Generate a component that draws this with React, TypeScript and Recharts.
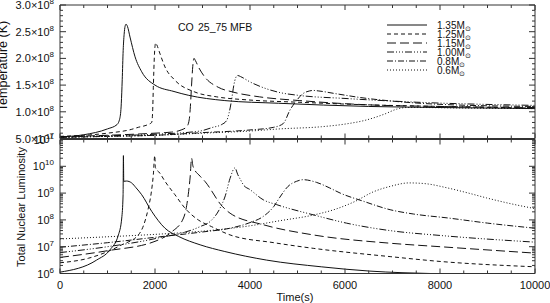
import { Line, LineChart, XAxis, YAxis } from "recharts";

const FONT = '"Liberation Sans", Arial, Helvetica, sans-serif';
const INK = "#111";
const AXIS = "#333";

// Series: white dwarf masses (solar masses)
const MASSES = ["1.35", "1.25", "1.15", "1.00", "0.8", "0.6"];

// --- Temperature (upper panel), in units of 1e8 K ---
const T135_TIME = [0, 500, 1000, 1200, 1260, 1290, 1310, 1330, 1350, 1370, 1390, 1420, 1474, 1580, 1720, 2000, 2400, 2700, 3470, 4600, 6500, 8000, 10000];
const T135_TEMP = [0.53, 0.57, 0.68, 0.76, 0.88, 1.15, 1.6, 2.15, 2.45, 2.6, 2.64, 2.6, 2.4, 2.03, 1.75, 1.5, 1.38, 1.31, 1.21, 1.16, 1.1, 1.08, 1.06];

const T125_TIME = [0, 1000, 1500, 1650, 1850, 1930, 1950, 1965, 1990, 2014, 2040, 2100, 2210, 2420, 2840, 3300, 4000, 5000, 6500, 8000, 10000];
const T125_TEMP = [0.54, 0.6, 0.67, 0.71, 0.76, 0.8, 1.0, 1.46, 2.1, 2.29, 2.25, 2.1, 1.84, 1.59, 1.37, 1.28, 1.22, 1.18, 1.13, 1.1, 1.07];

const T115_TIME = [0, 1000, 2000, 2350, 2550, 2670, 2720, 2745, 2770, 2795, 2821, 2850, 2920, 3050, 3330, 3640, 4200, 5050, 6500, 8000, 10000];
const T115_TEMP = [0.53, 0.56, 0.6, 0.62, 0.66, 0.72, 0.85, 1.1, 1.5, 1.85, 2.0, 1.96, 1.83, 1.65, 1.46, 1.37, 1.28, 1.21, 1.13, 1.1, 1.08];

const T100_TIME = [0, 1000, 2000, 2950, 3220, 3400, 3510, 3560, 3610, 3660, 3700, 3740, 3800, 4000, 4350, 4630, 5000, 6000, 7500, 10000];
const T100_TEMP = [0.53, 0.55, 0.58, 0.64, 0.71, 0.76, 0.84, 0.98, 1.21, 1.5, 1.64, 1.68, 1.66, 1.56, 1.43, 1.36, 1.31, 1.25, 1.18, 1.12];

const T080_TIME = [0, 1000, 2000, 3000, 4000, 4500, 4700, 4840, 4980, 5100, 5250, 5330, 5450, 5800, 6300, 7000, 8000, 10000];
const T080_TEMP = [0.52, 0.54, 0.56, 0.61, 0.66, 0.71, 0.78, 1.03, 1.21, 1.33, 1.39, 1.4, 1.39, 1.34, 1.27, 1.2, 1.14, 1.1];

const T060_TIME = [0, 1000, 2000, 3000, 4000, 4630, 5500, 6000, 6420, 6840, 7090, 7300, 7600, 8500, 10000];
const T060_TEMP = [0.52, 0.54, 0.56, 0.6, 0.64, 0.68, 0.72, 0.77, 0.84, 0.96, 1.05, 1.08, 1.08, 1.07, 1.06];

// --- Total nuclear luminosity (lower panel), log10 values ---
const L135_TIME = [0, 770, 1050, 1230, 1300, 1328, 1335, 1342, 1400, 1508, 1600, 1720, 1930, 2210, 2500, 2950, 3470, 4350, 5500, 6520, 7200, 7800];
const L135_LOG = [6.05, 6.5, 6.88, 7.44, 8.07, 8.94, 10.4, 9.44, 9.45, 9.38, 9.2, 8.94, 8.32, 7.69, 7.38, 7.07, 6.82, 6.5, 6.25, 6.09, 6.03, 6.0];

const L125_TIME = [0, 600, 1300, 1650, 1760, 1860, 1920, 1965, 1995, 2010, 2100, 2210, 2420, 2630, 2910, 3190, 3580, 4500, 5330, 6950, 8000, 10000];
const L125_LOG = [6.4, 6.57, 7.07, 7.44, 7.8, 8.44, 9.0, 9.69, 10.4, 9.95, 9.75, 9.44, 8.94, 8.44, 8.0, 7.75, 7.44, 7.15, 6.94, 6.63, 6.45, 6.25];

const L115_TIME = [0, 1000, 2000, 2350, 2600, 2700, 2740, 2770, 2800, 2950, 3050, 3420, 3580, 4280, 5330, 6950, 8000, 10000];
const L115_LOG = [6.6, 6.85, 7.2, 7.55, 8.07, 8.94, 9.6, 10.3, 10.0, 9.63, 9.44, 8.5, 8.25, 7.82, 7.44, 7.13, 7.0, 6.76];

const L100_TIME = [0, 1000, 2000, 2950, 3160, 3370, 3480, 3580, 3684, 3740, 3800, 3860, 4000, 4280, 4560, 5330, 6030, 6950, 8000, 10000];
const L100_LOG = [6.78, 7.0, 7.3, 7.75, 7.94, 8.44, 8.9, 9.55, 9.94, 9.7, 9.5, 9.31, 9.13, 8.75, 8.57, 8.19, 7.88, 7.6, 7.42, 7.17];

const L080_TIME = [0, 1000, 2000, 3000, 3580, 4000, 4280, 4500, 4630, 4800, 4980, 5120, 5400, 5680, 5900, 6380, 6950, 7440, 8175, 9000, 10000];
const L080_LOG = [6.98, 7.15, 7.35, 7.55, 7.69, 7.9, 8.13, 8.5, 8.85, 9.25, 9.44, 9.5, 9.4, 9.19, 9.0, 8.7, 8.38, 8.22, 8.07, 7.88, 7.69];

const L060_TIME = [0, 1000, 2000, 3000, 4000, 4630, 5330, 5800, 6200, 6600, 6950, 7350, 7700, 8140, 8600, 8980, 9500, 10000];
const L060_LOG = [7.29, 7.37, 7.46, 7.58, 7.78, 7.97, 8.18, 8.4, 8.68, 9.05, 9.25, 9.38, 9.35, 9.2, 9.0, 8.82, 8.6, 8.42];

// --- Tick labels ---
const TIME_LABELS = [0, 2000, 4000, 6000, 8000, 10000];
const TEMP_TICKS = [0.5, 1.0, 1.5, 2.0, 2.5, 3.0];
const TEMP_MANTISSA = ["5.0", "1.0", "1.5", "2.0", "2.5", "3.0"];
const TEMP_EXP = ["7", "8", "8", "8", "8", "8"];
const LUM_EXP = [6, 7, 8, 9, 10, 11];

const DASHES = [undefined, "4 3", "9 4", "7 2 1 2 1 2 1 2", "6 2 1 2", "1 2"];

const zip = (t: number[], v: number[]) => t.map((x, i) => ({ t: x, v: v[i] }));
const zipLog = (t: number[], v: number[]) => t.map((x, i) => ({ t: x, v: Math.pow(10, v[i]) }));

const tempSeries = [
  zip(T135_TIME, T135_TEMP),
  zip(T125_TIME, T125_TEMP),
  zip(T115_TIME, T115_TEMP),
  zip(T100_TIME, T100_TEMP),
  zip(T080_TIME, T080_TEMP),
  zip(T060_TIME, T060_TEMP),
];
const lumSeries = [
  zipLog(L135_TIME, L135_LOG),
  zipLog(L125_TIME, L125_LOG),
  zipLog(L115_TIME, L115_LOG),
  zipLog(L100_TIME, L100_LOG),
  zipLog(L080_TIME, L080_LOG),
  zipLog(L060_TIME, L060_LOG),
];

const X_TICKS = Array.from({ length: 21 }, (_, i) => i * 500);
const TEMP_MINOR = Array.from({ length: 26 }, (_, i) => +(0.5 + 0.1 * i).toFixed(1));
const LUM_TICKS = [
  ...LUM_EXP.slice(0, 5).flatMap((e) => [1, 2, 3, 4, 5, 6, 7, 8, 9].map((k) => k * Math.pow(10, e))),
  1e11,
];

const isTimeMajor = (v: number) => v % 2000 === 0;
const isTempMajor = (v: number) => Math.round(v * 10) % 5 === 0;
const isLumMajor = (v: number) => Math.abs(Math.log10(v) - Math.round(Math.log10(v))) < 1e-6;

function xTick(side: "top" | "bottom", withLabels: boolean) {
  return (p: any) => {
    const { x, y, payload } = p;
    const v = payload.value as number;
    const major = isTimeMajor(v);
    const len = major ? 5 : 3;
    const dir = side === "bottom" ? -1 : 1;
    return (
      <g>
        <line x1={x} x2={x} y1={y} y2={y + dir * len} stroke={AXIS} />
        {withLabels && major && (
          <text x={x} y={y + 15.5} textAnchor="middle" fontFamily={FONT} fontSize={11} fill={INK}>
            {v}
          </text>
        )}
      </g>
    );
  };
}

function yTick(side: "left" | "right", isMajor: (v: number) => boolean, label?: (v: number) => any) {
  return (p: any) => {
    const { x, y, payload } = p;
    const v = payload.value as number;
    const major = isMajor(v);
    const len = major ? 6 : 3;
    const dir = side === "left" ? 1 : -1;
    return (
      <g>
        <line x1={x} x2={x + dir * len} y1={y} y2={y} stroke={AXIS} />
        {side === "left" && major && label && (
          <text x={x - 6} y={y + 4} textAnchor="end" fontFamily={FONT} fontSize={11} fill={INK}>
            {label(v)}
          </text>
        )}
      </g>
    );
  };
}

const tempLabel = (v: number) => {
  const i = TEMP_TICKS.findIndex((t) => Math.abs(t - v) < 1e-6);
  if (i < 0) return null;
  return (
    <>
      {TEMP_MANTISSA[i]}×10
      <tspan dy={-5} fontSize={8}>
        {TEMP_EXP[i]}
      </tspan>
    </>
  );
};

const lumLabel = (v: number) => (
  <>
    10
    <tspan dy={-5} fontSize={8}>
      {Math.round(Math.log10(v))}
    </tspan>
  </>
);

const layer: React.CSSProperties = { position: "absolute", left: 0, top: 0 };

function TemperaturePanel() {
  return (
    <div style={layer}>
      <LineChart width={550} height={303} margin={{ top: 4, right: 0, bottom: 163.5, left: 0 }}>
        <XAxis xAxisId="b" type="number" dataKey="t" domain={[0, 10000]} allowDataOverflow ticks={X_TICKS} interval={0}
          height={1} tickSize={0} tickMargin={0} tickLine={false} axisLine={{ stroke: AXIS }} tick={xTick("bottom", false)} />
        <XAxis xAxisId="t" orientation="top" type="number" dataKey="t" domain={[0, 10000]} allowDataOverflow ticks={X_TICKS} interval={0}
          height={1} tickSize={0} tickMargin={0} tickLine={false} axisLine={{ stroke: AXIS }} tick={xTick("top", false)} />
        <YAxis yAxisId="l" type="number" domain={[0.5, 3]} allowDataOverflow ticks={TEMP_MINOR} interval={0}
          width={60} tickSize={0} tickMargin={0} tickLine={false} axisLine={{ stroke: AXIS }} tick={yTick("left", isTempMajor, tempLabel)} />
        <YAxis yAxisId="r" orientation="right" type="number" domain={[0.5, 3]} allowDataOverflow ticks={TEMP_MINOR} interval={0}
          width={15} tickSize={0} tickMargin={0} tickLine={false} axisLine={{ stroke: AXIS }} tick={yTick("right", isTempMajor)} />
        {tempSeries.map((d, i) => (
          <Line key={MASSES[i]} data={d} dataKey="v" xAxisId="b" yAxisId="l" type="monotone" stroke={INK} strokeWidth={1}
            strokeDasharray={DASHES[i]} dot={false} activeDot={false} isAnimationActive={false} />
        ))}
      </LineChart>
    </div>
  );
}

function LuminosityPanel() {
  return (
    <div style={layer}>
      <LineChart width={550} height={303} margin={{ top: 138.5, right: 0, bottom: 28.5, left: 0 }}>
        <XAxis xAxisId="b" type="number" dataKey="t" domain={[0, 10000]} allowDataOverflow ticks={X_TICKS} interval={0}
          height={1} tickSize={0} tickMargin={0} tickLine={false} axisLine={{ stroke: AXIS }} tick={xTick("bottom", true)} />
        <XAxis xAxisId="t" orientation="top" type="number" dataKey="t" domain={[0, 10000]} allowDataOverflow ticks={X_TICKS} interval={0}
          height={1} tickSize={0} tickMargin={0} tickLine={false} axisLine={{ stroke: AXIS }} tick={xTick("top", false)} />
        <YAxis yAxisId="l" type="number" scale="log" domain={[1e6, 1e11]} allowDataOverflow ticks={LUM_TICKS} interval={0}
          width={60} tickSize={0} tickMargin={0} tickLine={false} axisLine={{ stroke: AXIS }} tick={yTick("left", isLumMajor, lumLabel)} />
        <YAxis yAxisId="r" orientation="right" type="number" scale="log" domain={[1e6, 1e11]} allowDataOverflow ticks={LUM_TICKS} interval={0}
          width={15} tickSize={0} tickMargin={0} tickLine={false} axisLine={{ stroke: AXIS }} tick={yTick("right", isLumMajor)} />
        {lumSeries.map((d, i) => (
          <Line key={MASSES[i]} data={d} dataKey="v" xAxisId="b" yAxisId="l" type="monotone" stroke={INK} strokeWidth={1}
            strokeDasharray={DASHES[i]} dot={false} activeDot={false} isAnimationActive={false} />
        ))}
      </LineChart>
    </div>
  );
}

function Annotations() {
  return (
    <svg width={550} height={303} style={{ ...layer, pointerEvents: "none" }} fontFamily={FONT} fill={INK}>
      <text x={178} y={30.5} fontSize={10.5}>CO</text>
      <text x={198} y={30.5} fontSize={10.5}>25_75 MFB</text>
      {MASSES.map((m, i) => (
        <g key={m}>
          <line x1={387} x2={427} y1={25 + 9 * i} y2={25 + 9 * i} stroke={INK} strokeDasharray={DASHES[i]} />
          <text x={437} y={28.5 + 9 * i} fontSize={10}>
            {m}M
            <tspan dy={2.5} fontSize={7}>⊙</tspan>
          </text>
        </g>
      ))}
      <text transform="translate(7,66) rotate(-90)" textAnchor="middle" fontSize={12.5}>Temperature (K)</text>
      <text transform="translate(24.5,207) rotate(-90)" textAnchor="middle" fontSize={11}>Total Nuclear Luminosity</text>
      <text x={295} y={300.5} textAnchor="middle" fontSize={11}>Time(s)</text>
    </svg>
  );
}

export default function App() {
  return (
    <div style={{ position: "fixed", left: 0, top: 0, width: 550, height: 303, background: "#fff", overflow: "hidden" }}>
      <TemperaturePanel />
      <LuminosityPanel />
      <Annotations />
    </div>
  );
}
